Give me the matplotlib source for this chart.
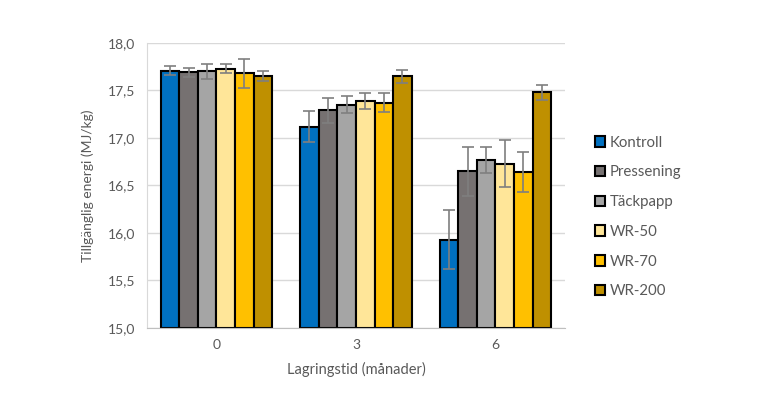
import numpy as np
import matplotlib
matplotlib.use("Agg")
import matplotlib.pyplot as plt
from matplotlib.ticker import FuncFormatter

plt.rcParams['font.family'] = ['Lato', 'DejaVu Sans']

# Data
months = ['0', '3', '6']
series = ['Kontroll', 'Pressening', 'Täckpapp', 'WR-50', 'WR-70', 'WR-200']
colors = ['#0070C0', '#767171', '#A5A5A5', '#FFE699', '#FFC000', '#BF9000']

kontroll = [17.71, 17.12, 15.93]
pressening = [17.69, 17.29, 16.65]
tackpapp = [17.70, 17.35, 16.77]
wr50 = [17.73, 17.39, 16.73]
wr70 = [17.68, 17.37, 16.64]
wr200 = [17.65, 17.65, 17.48]

kontroll_err = [0.05, 0.16, 0.31]
pressening_err = [0.05, 0.13, 0.26]
tackpapp_err = [0.08, 0.09, 0.14]
wr50_err = [0.05, 0.085, 0.25]
wr70_err = [0.15, 0.10, 0.21]
wr200_err = [0.05, 0.07, 0.08]

values = [kontroll, pressening, tackpapp, wr50, wr70, wr200]
errors = [kontroll_err, pressening_err, tackpapp_err, wr50_err, wr70_err, wr200_err]

fig = plt.figure(figsize=(7.68, 3.98), dpi=100)
ax = fig.add_axes([0.191, 0.176, 0.545, 0.716])

x = np.arange(len(months))
n = len(series)
width = 0.8 / n
for i, (name, vals, errs, c) in enumerate(zip(series, values, errors, colors)):
    pos = x - 0.4 + width * (i + 0.5)
    ax.bar(pos, np.array(vals) - 15, width, bottom=15, color=c, edgecolor='black',
           linewidth=1.5, label=name, zorder=2)
    ax.errorbar(pos, vals, yerr=errs, fmt='none', ecolor='#7F7F7F', elinewidth=1.2,
                capsize=4, capthick=1.2, zorder=3)

ax.set_ylim(15, 18)
ax.set_xlim(-0.5, 2.5)
ax.set_yticks(np.arange(15, 18.01, 0.5))
ax.yaxis.set_major_formatter(FuncFormatter(lambda v, p: f"{v:.1f}".replace('.', ',')))
ax.set_xticks(x)
ax.set_xticklabels(months)
ax.grid(axis='y', color='#D9D9D9', linewidth=1, zorder=0)
ax.set_axisbelow(True)

for s in ['top', 'right']:
    ax.spines[s].set_visible(False)
ax.spines['left'].set_color('#D9D9D9')
ax.spines['bottom'].set_color('#BFBFBF')
ax.tick_params(axis='both', length=0, colors='#595959', labelsize=10, pad=8)

ax.set_ylabel('Tillgänglig energi (MJ/kg)', color='#595959', fontsize=10, labelpad=10)
ax.set_xlabel('Lagringstid (månader)', color='#595959', fontsize=10.5, labelpad=8)

leg = fig.legend(loc='upper left', bbox_to_anchor=(0.757, 0.693), frameon=False,
                 fontsize=10.8, handlelength=0.7, handleheight=0.7, handletextpad=0.3,
                 labelspacing=1.05, labelcolor='#595959')

fig.savefig('out.png', dpi=100)
